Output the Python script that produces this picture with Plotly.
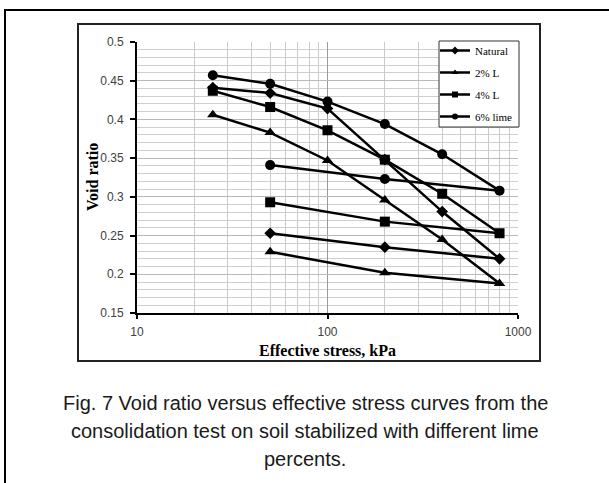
import plotly.graph_objects as go

# Effective stress steps: loading 25 -> 800 kPa, then unloading 800 -> 200 -> 50 kPa
stress = [25, 50, 100, 200, 400, 800, 200, 50]

natural = [0.441, 0.434, 0.414, 0.348, 0.281, 0.220, 0.235, 0.253]
lime_2 = [0.406, 0.383, 0.347, 0.296, 0.245, 0.188, 0.202, 0.229]
lime_4 = [0.437, 0.416, 0.386, 0.348, 0.304, 0.253, 0.268, 0.293]
lime_6 = [0.457, 0.446, 0.423, 0.394, 0.355, 0.308, 0.323, 0.341]

series_names = ["Natural", "2% L", "4% L", "6% lime"]
series_values = [natural, lime_2, lime_4, lime_6]
symbols = ["diamond", "triangle-up", "square", "circle"]
marker_sizes = [9, 10, 10, 10]
legend_marker_sizes = [6, 6, 6, 6]

y_ticks = [0.15, 0.2, 0.25, 0.3, 0.35, 0.4, 0.45, 0.5]
y_tick_text = ["0.15", "0.2", "0.25", "0.3", "0.35", "0.4", "0.45", "0.5"]
x_ticks = [10, 100, 1000]
x_tick_text = ["10", "100", "1000"]
x_minor = [20, 30, 40, 50, 60, 70, 80, 90, 200, 300, 400, 500, 600, 700, 800, 900]

caption_lines = [
    "Fig. 7 Void ratio versus effective stress curves from the",
    "consolidation test on soil stabilized with different lime",
    "percents.",
]

W, H = 609, 483
L, R, T, B = 137, 518, 42, 313


def px_x(p):
    return (p - L) / (R - L)


def px_y(p):
    return (B - p) / (B - T)


fig = go.Figure()

for name, vals, sym, ms in zip(series_names, series_values, symbols, marker_sizes):
    fig.add_trace(go.Scatter(
        x=stress, y=vals, mode="lines+markers", name=name,
        line=dict(color="black", width=2.5),
        marker=dict(symbol=sym, size=ms, color="black"),
        showlegend=False,
    ))

# legend entries with small markers on the line sample
for name, sym, lms in zip(series_names, symbols, legend_marker_sizes):
    fig.add_trace(go.Scatter(
        x=[None], y=[None], mode="lines+markers", name=name,
        legendgroup=name,
        line=dict(color="black", width=2.5),
        marker=dict(symbol=sym, size=lms, color="black"),
    ))

tick_font = dict(family="Liberation Sans, Arial, sans-serif", size=12, color="#404040")
title_font = dict(family="Liberation Serif, Times New Roman, serif", size=16, color="black")

fig.update_xaxes(
    type="log", range=[1, 3],
    tickvals=x_ticks, ticktext=x_tick_text,
    ticks="outside", ticklen=4, tickwidth=2, tickcolor="black",
    showline=True, linecolor="black", linewidth=2,
    showgrid=True, gridcolor="#9a9a9a", gridwidth=1,
    minor=dict(tickmode="array", tickvals=x_minor, showgrid=True,
               gridcolor="#cbcbcb", gridwidth=1, ticks=""),
    tickfont=tick_font, ticklabelstandoff=3,
    zeroline=False, mirror=False,
)
fig.update_yaxes(
    range=[0.15, 0.5],
    tickvals=y_ticks, ticktext=y_tick_text,
    ticks="outside", ticklen=5, tickwidth=2, tickcolor="black",
    showline=True, linecolor="black", linewidth=2,
    showgrid=True, gridcolor="#bababa", gridwidth=1,
    minor=dict(dtick=0.01, showgrid=True, gridcolor="#cfcfcf", gridwidth=1, ticks=""),
    tickfont=tick_font, ticklabelstandoff=4,
    zeroline=False,
)

shapes = [
    # outer figure frame (left and top edges fall inside the page)
    dict(type="rect", xref="paper", yref="paper",
         x0=px_x(5), x1=px_x(620), y0=px_y(495), y1=px_y(10),
         line=dict(color="black", width=2), fillcolor="rgba(0,0,0,0)", layer="below"),
    # chart box
    dict(type="rect", xref="paper", yref="paper",
         x0=px_x(78), x1=px_x(540), y0=px_y(361), y1=px_y(24),
         line=dict(color="#222222", width=2), fillcolor="rgba(0,0,0,0)", layer="below"),
    # legend frame
    dict(type="rect", xref="paper", yref="paper",
         x0=px_x(439), x1=px_x(519), y0=px_y(127), y1=px_y(41),
         line=dict(color="#333333", width=1), fillcolor="white", layer="above"),
]

annotations = [
    dict(text="<b>Void ratio</b>", xref="paper", yref="paper",
         x=px_x(92), y=px_y(177), textangle=-90, showarrow=False,
         xanchor="center", yanchor="middle", font=title_font),
    dict(text="<b>Effective stress, kPa</b>", xref="paper", yref="paper",
         x=px_x(327), y=px_y(351), showarrow=False,
         xanchor="center", yanchor="middle", font=title_font),
]
for line_text, yc in zip(caption_lines, [403, 431, 459]):
    annotations.append(dict(
        text=line_text, xref="paper", yref="paper", x=px_x(305), y=px_y(yc),
        showarrow=False, xanchor="center", yanchor="middle",
        font=dict(family="Liberation Sans, Arial, sans-serif", size=20, color="#1a1a1a"),
    ))

fig.update_layout(
    width=W, height=H,
    margin=dict(l=L, r=W - R, t=T, b=H - B, pad=0),
    paper_bgcolor="white", plot_bgcolor="white",
    showlegend=True,
    legend=dict(
        x=px_x(435), y=px_y(36), xanchor="left", yanchor="top",
        bgcolor="rgba(0,0,0,0)", borderwidth=0,
        font=dict(family="Liberation Serif, Times New Roman, serif", size=11, color="black"),
        tracegroupgap=3, itemwidth=30,
    ),
    shapes=shapes, annotations=annotations,
)

fig.write_html("out.html")
